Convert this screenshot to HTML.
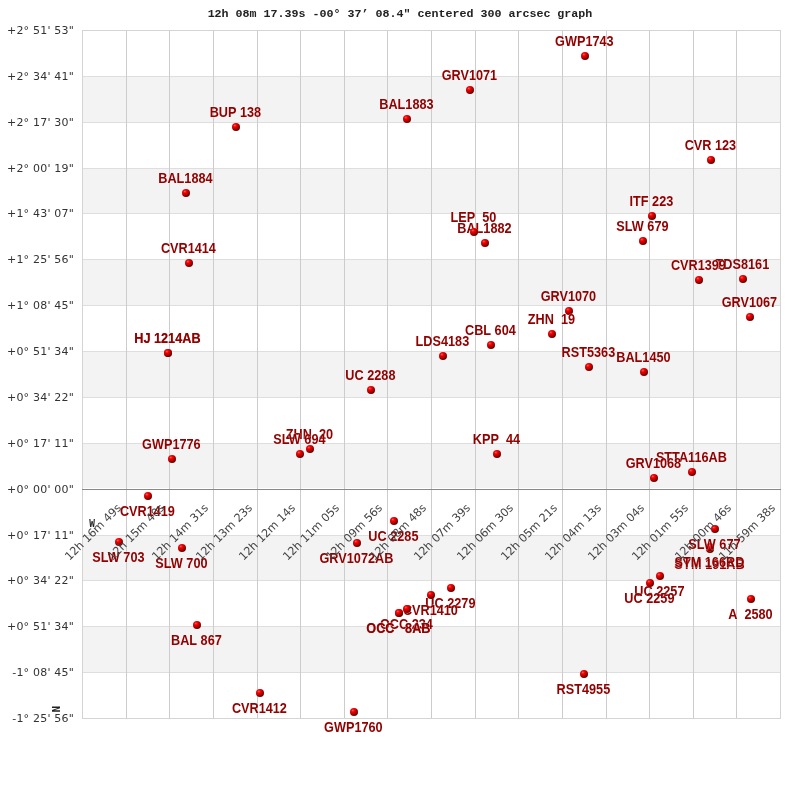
<!DOCTYPE html>
<html><head><meta charset="utf-8"><title>graph</title>
<style>html,body{margin:0;padding:0;background:#fff;}body{width:800px;height:800px;position:relative;overflow:hidden;}</style>
</head><body>
<svg width="800" height="800" viewBox="0 0 800 800" style="position:absolute;left:0;top:0;will-change:transform">
<defs>
<radialGradient id="ball" cx="0.36" cy="0.3" r="0.8" fx="0.36" fy="0.3">
<stop offset="0" stop-color="#ff9090"/>
<stop offset="0.12" stop-color="#ff2020"/>
<stop offset="0.32" stop-color="#e80000"/>
<stop offset="0.58" stop-color="#b40000"/>
<stop offset="0.82" stop-color="#700000"/>
<stop offset="1" stop-color="#400000"/>
</radialGradient>
</defs>
<rect x="0" y="0" width="800" height="800" fill="#fff"/>
<rect x="82" y="76" width="698" height="46" fill="#f3f3f3"/><rect x="82" y="168" width="698" height="45" fill="#f3f3f3"/><rect x="82" y="259" width="698" height="46" fill="#f3f3f3"/><rect x="82" y="351" width="698" height="46" fill="#f3f3f3"/><rect x="82" y="443" width="698" height="46" fill="#f3f3f3"/><rect x="82" y="535" width="698" height="45" fill="#f3f3f3"/><rect x="82" y="626" width="698" height="46" fill="#f3f3f3"/><rect x="83" y="488" width="697" height="1" fill="#fff"/><rect x="82" y="76" width="699" height="1" fill="#dedede"/><rect x="82" y="122" width="699" height="1" fill="#dedede"/><rect x="82" y="168" width="699" height="1" fill="#dedede"/><rect x="82" y="213" width="699" height="1" fill="#dedede"/><rect x="82" y="259" width="699" height="1" fill="#dedede"/><rect x="82" y="305" width="699" height="1" fill="#dedede"/><rect x="82" y="351" width="699" height="1" fill="#dedede"/><rect x="82" y="397" width="699" height="1" fill="#dedede"/><rect x="82" y="443" width="699" height="1" fill="#dedede"/><rect x="82" y="489" width="699" height="1" fill="#dedede"/><rect x="82" y="535" width="699" height="1" fill="#dedede"/><rect x="82" y="580" width="699" height="1" fill="#dedede"/><rect x="82" y="626" width="699" height="1" fill="#dedede"/><rect x="82" y="672" width="699" height="1" fill="#dedede"/><rect x="126" y="30" width="1" height="689" fill="#cccccc"/><rect x="169" y="30" width="1" height="689" fill="#cccccc"/><rect x="213" y="30" width="1" height="689" fill="#cccccc"/><rect x="257" y="30" width="1" height="689" fill="#cccccc"/><rect x="300" y="30" width="1" height="689" fill="#cccccc"/><rect x="344" y="30" width="1" height="689" fill="#cccccc"/><rect x="387" y="30" width="1" height="689" fill="#cccccc"/><rect x="431" y="30" width="1" height="689" fill="#cccccc"/><rect x="475" y="30" width="1" height="689" fill="#cccccc"/><rect x="518" y="30" width="1" height="689" fill="#cccccc"/><rect x="562" y="30" width="1" height="689" fill="#cccccc"/><rect x="606" y="30" width="1" height="689" fill="#cccccc"/><rect x="649" y="30" width="1" height="689" fill="#cccccc"/><rect x="693" y="30" width="1" height="689" fill="#cccccc"/><rect x="736" y="30" width="1" height="689" fill="#cccccc"/><rect x="82.5" y="30.5" width="698" height="688" fill="none" stroke="#d4d4d4" stroke-width="1"/><rect x="82" y="489" width="699" height="1" fill="#888888"/>
<g style="white-space:pre" font-family="Liberation Sans, Arial, sans-serif" font-weight="bold" font-size="12.7" fill="#930000" stroke="#fff" stroke-width="0.9" stroke-opacity="0.35" paint-order="stroke" stroke-linejoin="round" text-anchor="middle"><text class="lb" transform="translate(750.4 619) scale(1 1.1)">A&#160;&#160;2580</text><circle cx="751" cy="599" r="4" fill="url(#ball)"/><text class="lb" transform="translate(749.4 307) scale(1 1.1)">GRV1067</text><circle cx="750" cy="317" r="4" fill="url(#ball)"/><text class="lb" transform="translate(742.4 269) scale(1 1.1)">TDS8161</text><circle cx="743" cy="279" r="4" fill="url(#ball)"/><text class="lb" transform="translate(710.4 150) scale(1 1.1)">CVR&#160;123</text><circle cx="711" cy="160" r="4" fill="url(#ball)"/><text class="lb" transform="translate(709.4 569) scale(1 1.1)">SYM&#160;191AB</text><circle cx="710" cy="549" r="4" fill="url(#ball)"/><text class="lb" transform="translate(709.4 567) scale(1 1.1)">STM&#160;166RD</text><circle cx="710" cy="547" r="4" fill="url(#ball)"/><text class="lb" transform="translate(714.4 549) scale(1 1.1)">SLW&#160;677</text><circle cx="715" cy="529" r="4" fill="url(#ball)"/><text class="lb" transform="translate(698.4 270) scale(1 1.1)">CVR1399</text><circle cx="699" cy="280" r="4" fill="url(#ball)"/><text class="lb" transform="translate(691.4 462) scale(1 1.1)">STTA116AB</text><circle cx="692" cy="472" r="4" fill="url(#ball)"/><text class="lb" transform="translate(659.4 596) scale(1 1.1)">UC&#160;2257</text><circle cx="660" cy="576" r="4" fill="url(#ball)"/><text class="lb" transform="translate(653.4 468) scale(1 1.1)">GRV1068</text><circle cx="654" cy="478" r="4" fill="url(#ball)"/><text class="lb" transform="translate(651.4 206) scale(1 1.1)">ITF&#160;223</text><circle cx="652" cy="216" r="4" fill="url(#ball)"/><text class="lb" transform="translate(649.4 603) scale(1 1.1)">UC&#160;2259</text><circle cx="650" cy="583" r="4" fill="url(#ball)"/><text class="lb" transform="translate(643.4 362) scale(1 1.1)">BAL1450</text><circle cx="644" cy="372" r="4" fill="url(#ball)"/><text class="lb" transform="translate(642.4 231) scale(1 1.1)">SLW&#160;679</text><circle cx="643" cy="241" r="4" fill="url(#ball)"/><text class="lb" transform="translate(588.4 357) scale(1 1.1)">RST5363</text><circle cx="589" cy="367" r="4" fill="url(#ball)"/><text class="lb" transform="translate(584.4 46) scale(1 1.1)">GWP1743</text><circle cx="585" cy="56" r="4" fill="url(#ball)"/><text class="lb" transform="translate(583.4 694) scale(1 1.1)">RST4955</text><circle cx="584" cy="674" r="4" fill="url(#ball)"/><text class="lb" transform="translate(568.4 301) scale(1 1.1)">GRV1070</text><circle cx="569" cy="311" r="4" fill="url(#ball)"/><text class="lb" transform="translate(551.4 324) scale(1 1.1)">ZHN&#160;&#160;19</text><circle cx="552" cy="334" r="4" fill="url(#ball)"/><text class="lb" transform="translate(496.4 444) scale(1 1.1)">KPP&#160;&#160;44</text><circle cx="497" cy="454" r="4" fill="url(#ball)"/><text class="lb" transform="translate(490.4 335) scale(1 1.1)">CBL&#160;604</text><circle cx="491" cy="345" r="4" fill="url(#ball)"/><text class="lb" transform="translate(484.4 233) scale(1 1.1)">BAL1882</text><circle cx="485" cy="243" r="4" fill="url(#ball)"/><text class="lb" transform="translate(473.4 222) scale(1 1.1)">LEP&#160;&#160;50</text><circle cx="474" cy="232" r="4" fill="url(#ball)"/><text class="lb" transform="translate(469.4 80) scale(1 1.1)">GRV1071</text><circle cx="470" cy="90" r="4" fill="url(#ball)"/><text class="lb" transform="translate(450.4 608) scale(1 1.1)">UC&#160;2279</text><circle cx="451" cy="588" r="4" fill="url(#ball)"/><text class="lb" transform="translate(442.4 346) scale(1 1.1)">LDS4183</text><circle cx="443" cy="356" r="4" fill="url(#ball)"/><text class="lb" transform="translate(430.4 615) scale(1 1.1)">CVR1410</text><circle cx="431" cy="595" r="4" fill="url(#ball)"/><text class="lb" transform="translate(406.4 109) scale(1 1.1)">BAL1883</text><circle cx="407" cy="119" r="4" fill="url(#ball)"/><text class="lb" transform="translate(406.4 629) scale(1 1.1)">OCC&#160;234</text><circle cx="407" cy="609" r="4" fill="url(#ball)"/><text class="lb" transform="translate(398.4 633) scale(1 1.1)">OCC&#160;&#160;&#160;8AB</text><circle cx="399" cy="613" r="4" fill="url(#ball)"/><text class="lb" transform="translate(398.4 633) scale(1 1.1)">OCC&#160;&#160;&#160;8AB</text><circle cx="399" cy="613" r="4" fill="url(#ball)"/><text class="lb" transform="translate(393.4 541) scale(1 1.1)">UC&#160;2285</text><circle cx="394" cy="521" r="4" fill="url(#ball)"/><text class="lb" transform="translate(370.4 380) scale(1 1.1)">UC&#160;2288</text><circle cx="371" cy="390" r="4" fill="url(#ball)"/><text class="lb" transform="translate(356.4 563) scale(1 1.1)">GRV1072AB</text><circle cx="357" cy="543" r="4" fill="url(#ball)"/><text class="lb" transform="translate(353.4 732) scale(1 1.1)">GWP1760</text><circle cx="354" cy="712" r="4" fill="url(#ball)"/><text class="lb" transform="translate(309.4 439) scale(1 1.1)">ZHN&#160;&#160;20</text><circle cx="310" cy="449" r="4" fill="url(#ball)"/><text class="lb" transform="translate(299.4 444) scale(1 1.1)">SLW&#160;694</text><circle cx="300" cy="454" r="4" fill="url(#ball)"/><text class="lb" transform="translate(259.4 713) scale(1 1.1)">CVR1412</text><circle cx="260" cy="693" r="4" fill="url(#ball)"/><text class="lb" transform="translate(235.4 117) scale(1 1.1)">BUP&#160;138</text><circle cx="236" cy="127" r="4" fill="url(#ball)"/><text class="lb" transform="translate(196.4 645) scale(1 1.1)">BAL&#160;867</text><circle cx="197" cy="625" r="4" fill="url(#ball)"/><text class="lb" transform="translate(188.4 253) scale(1 1.1)">CVR1414</text><circle cx="189" cy="263" r="4" fill="url(#ball)"/><text class="lb" transform="translate(185.4 183) scale(1 1.1)">BAL1884</text><circle cx="186" cy="193" r="4" fill="url(#ball)"/><text class="lb" transform="translate(181.4 568) scale(1 1.1)">SLW&#160;700</text><circle cx="182" cy="548" r="4" fill="url(#ball)"/><text class="lb" transform="translate(171.4 449) scale(1 1.1)">GWP1776</text><circle cx="172" cy="459" r="4" fill="url(#ball)"/><text class="lb" transform="translate(167.4 343) scale(1 1.1)">HJ&#160;1214AB</text><circle cx="168" cy="353" r="4" fill="url(#ball)"/><text class="lb" transform="translate(167.4 343) scale(1 1.1)">HJ&#160;1214AB</text><circle cx="168" cy="353" r="4" fill="url(#ball)"/><text class="lb" transform="translate(147.4 516) scale(1 1.1)">CVR1419</text><circle cx="148" cy="496" r="4" fill="url(#ball)"/><text class="lb" transform="translate(118.4 562) scale(1 1.1)">SLW&#160;703</text><circle cx="119" cy="542" r="4" fill="url(#ball)"/></g>
<g font-family="DejaVu Sans, sans-serif" font-size="11" fill="#333" letter-spacing="0.2" text-anchor="end"><text x="74" y="34">+2°&#160;51'&#160;53&quot;</text><text x="74" y="80">+2°&#160;34'&#160;41&quot;</text><text x="74" y="126">+2°&#160;17'&#160;30&quot;</text><text x="74" y="172">+2°&#160;00'&#160;19&quot;</text><text x="74" y="217">+1°&#160;43'&#160;07&quot;</text><text x="74" y="263">+1°&#160;25'&#160;56&quot;</text><text x="74" y="309">+1°&#160;08'&#160;45&quot;</text><text x="74" y="355">+0°&#160;51'&#160;34&quot;</text><text x="74" y="401">+0°&#160;34'&#160;22&quot;</text><text x="74" y="447">+0°&#160;17'&#160;11&quot;</text><text x="74" y="493">+0°&#160;00'&#160;00&quot;</text><text x="74" y="539">+0°&#160;17'&#160;11&quot;</text><text x="74" y="584">+0°&#160;34'&#160;22&quot;</text><text x="74" y="630">+0°&#160;51'&#160;34&quot;</text><text x="74" y="676">-1°&#160;08'&#160;45&quot;</text><text x="74" y="722">-1°&#160;25'&#160;56&quot;</text></g>
<g font-family="DejaVu Sans, sans-serif" font-size="11.3" fill="#444" text-anchor="end"><text x="122" y="508.5" transform="rotate(-45 122 508.5)">12h&#160;16m&#160;49s</text><text x="165" y="508.5" transform="rotate(-45 165 508.5)">12h&#160;15m&#160;40s</text><text x="209" y="508.5" transform="rotate(-45 209 508.5)">12h&#160;14m&#160;31s</text><text x="253" y="508.5" transform="rotate(-45 253 508.5)">12h&#160;13m&#160;23s</text><text x="296" y="508.5" transform="rotate(-45 296 508.5)">12h&#160;12m&#160;14s</text><text x="340" y="508.5" transform="rotate(-45 340 508.5)">12h&#160;11m&#160;05s</text><text x="383" y="508.5" transform="rotate(-45 383 508.5)">12h&#160;09m&#160;56s</text><text x="427" y="508.5" transform="rotate(-45 427 508.5)">12h&#160;08m&#160;48s</text><text x="471" y="508.5" transform="rotate(-45 471 508.5)">12h&#160;07m&#160;39s</text><text x="514" y="508.5" transform="rotate(-45 514 508.5)">12h&#160;06m&#160;30s</text><text x="558" y="508.5" transform="rotate(-45 558 508.5)">12h&#160;05m&#160;21s</text><text x="602" y="508.5" transform="rotate(-45 602 508.5)">12h&#160;04m&#160;13s</text><text x="645" y="508.5" transform="rotate(-45 645 508.5)">12h&#160;03m&#160;04s</text><text x="689" y="508.5" transform="rotate(-45 689 508.5)">12h&#160;01m&#160;55s</text><text x="732" y="508.5" transform="rotate(-45 732 508.5)">12h&#160;00m&#160;46s</text><text x="776" y="508.5" transform="rotate(-45 776 508.5)">11h&#160;59m&#160;38s</text></g>
<text x="400" y="17" font-family="Liberation Mono, DejaVu Sans Mono, monospace" font-weight="bold" font-size="11.67" fill="#222" text-anchor="middle">12h 08m 17.39s -00° 37’ 08.4" centered 300 arcsec graph</text>
<text x="92" y="527" font-family="DejaVu Sans Mono, monospace" font-weight="bold" font-size="10.5" fill="#222" text-anchor="middle" transform="translate(92 527) scale(0.9 1.05) translate(-92 -527)">W</text>
<text x="0" y="0" transform="translate(60 709) rotate(-90)" font-family="DejaVu Sans Mono, monospace" font-weight="bold" font-size="10.5" fill="#222" text-anchor="middle">N</text>
</svg>
</body></html>
